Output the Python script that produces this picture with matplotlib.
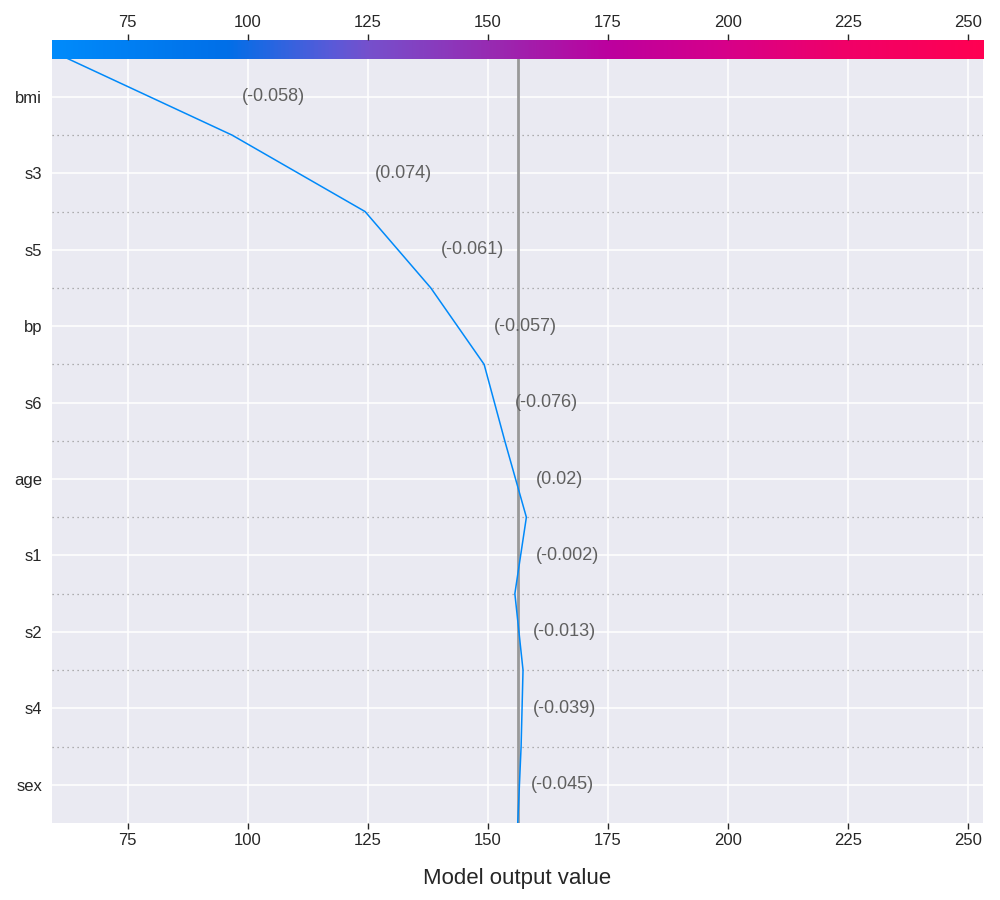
import matplotlib
matplotlib.use('Agg')
import matplotlib.pyplot as plt
import numpy as np
from matplotlib.colors import LinearSegmentedColormap

# Decision plot data (bottom row first)
features = ['sex', 's4', 's2', 's1', 'age', 's6', 'bp', 's5', 's3', 'bmi']
feature_values = [-0.045, -0.039, -0.013, -0.002, 0.02, -0.076, -0.057, -0.061, 0.074, -0.058]
# cumulative model output at each row boundary, from base value up to final prediction
cumulative = [156.2, 156.9, 157.3, 155.6, 158.0, 153.5, 149.2, 138.1, 124.4, 96.7, 62.5]
base_value = 156.2
x_ticks = [75, 100, 125, 150, 175, 200, 225, 250]
x_min, x_max = 59.2, 253.1

plt.rcParams['font.family'] = ['Liberation Sans', 'DejaVu Sans']

cmap = LinearSegmentedColormap.from_list('red_blue', [
    (0.0, '#008bfb'), (0.186, '#006fe8'), (0.30, '#5a5ad8'), (0.34, '#7650cc'),
    (0.48, '#9a28b0'), (0.60, '#bd009e'), (0.72, '#d6008a'), (0.85, '#f00068'),
    (1.0, '#ff0052')])

fig = plt.figure(figsize=(10, 9), dpi=100)
ax = fig.add_axes([0.052, 0.0856, 0.931, 0.8492])
cax = fig.add_axes([0.052, 0.9348, 0.931, 0.0208])

ax.set_facecolor('#eaeaf2')
for s in ax.spines.values():
    s.set_visible(False)

y = np.arange(len(features))
ax.set_xlim(x_min, x_max)
ax.set_ylim(-0.5, len(features) - 0.5)
ax.set_yticks(y)
ax.set_yticklabels(features, fontsize=12, color='#262626')
ax.set_xticks(x_ticks)
ax.tick_params(axis='x', labelsize=12, colors='#262626', length=4, width=1)
ax.tick_params(axis='y', length=0, pad=7)
ax.grid(True, color='white', linewidth=1.1, zorder=0)
ax.set_axisbelow(True)

# dotted separators between rows
for b in y[:-1] + 0.5:
    ax.axhline(b, color='#999999', linestyle=(0, (1, 3)), linewidth=0.9, zorder=1)

ax.axvline(base_value, color='#999999', linewidth=2, zorder=2)

norm_final = (cumulative[-1] - x_min) / (x_max - x_min)
ax.plot(cumulative, np.arange(len(cumulative)) - 0.5, color=cmap(norm_final), linewidth=1.1, zorder=3)

offset = (x_max - x_min) * 0.0105
for i, v in enumerate(feature_values):
    xpos = max(cumulative[i], cumulative[i + 1]) + offset
    ax.text(xpos, i, '(' + str(v) + ')', ha='left', va='center', fontsize=13, color='#606060', zorder=4)

ax.set_xlabel('Model output value', fontsize=16, color='#262626', labelpad=14)

# colorbar across top
grad = np.linspace(0, 1, 512).reshape(1, -1)
cax.imshow(grad, aspect='auto', cmap=cmap, extent=[x_min, x_max, 0, 1])
cax.set_xlim(x_min, x_max)
cax.set_yticks([])
cax.set_xticks(x_ticks)
cax.xaxis.tick_top()
cax.tick_params(axis='x', labelsize=12, colors='#262626', length=4, width=1)
for s in cax.spines.values():
    s.set_visible(False)

fig.savefig('out.png', dpi=100)
